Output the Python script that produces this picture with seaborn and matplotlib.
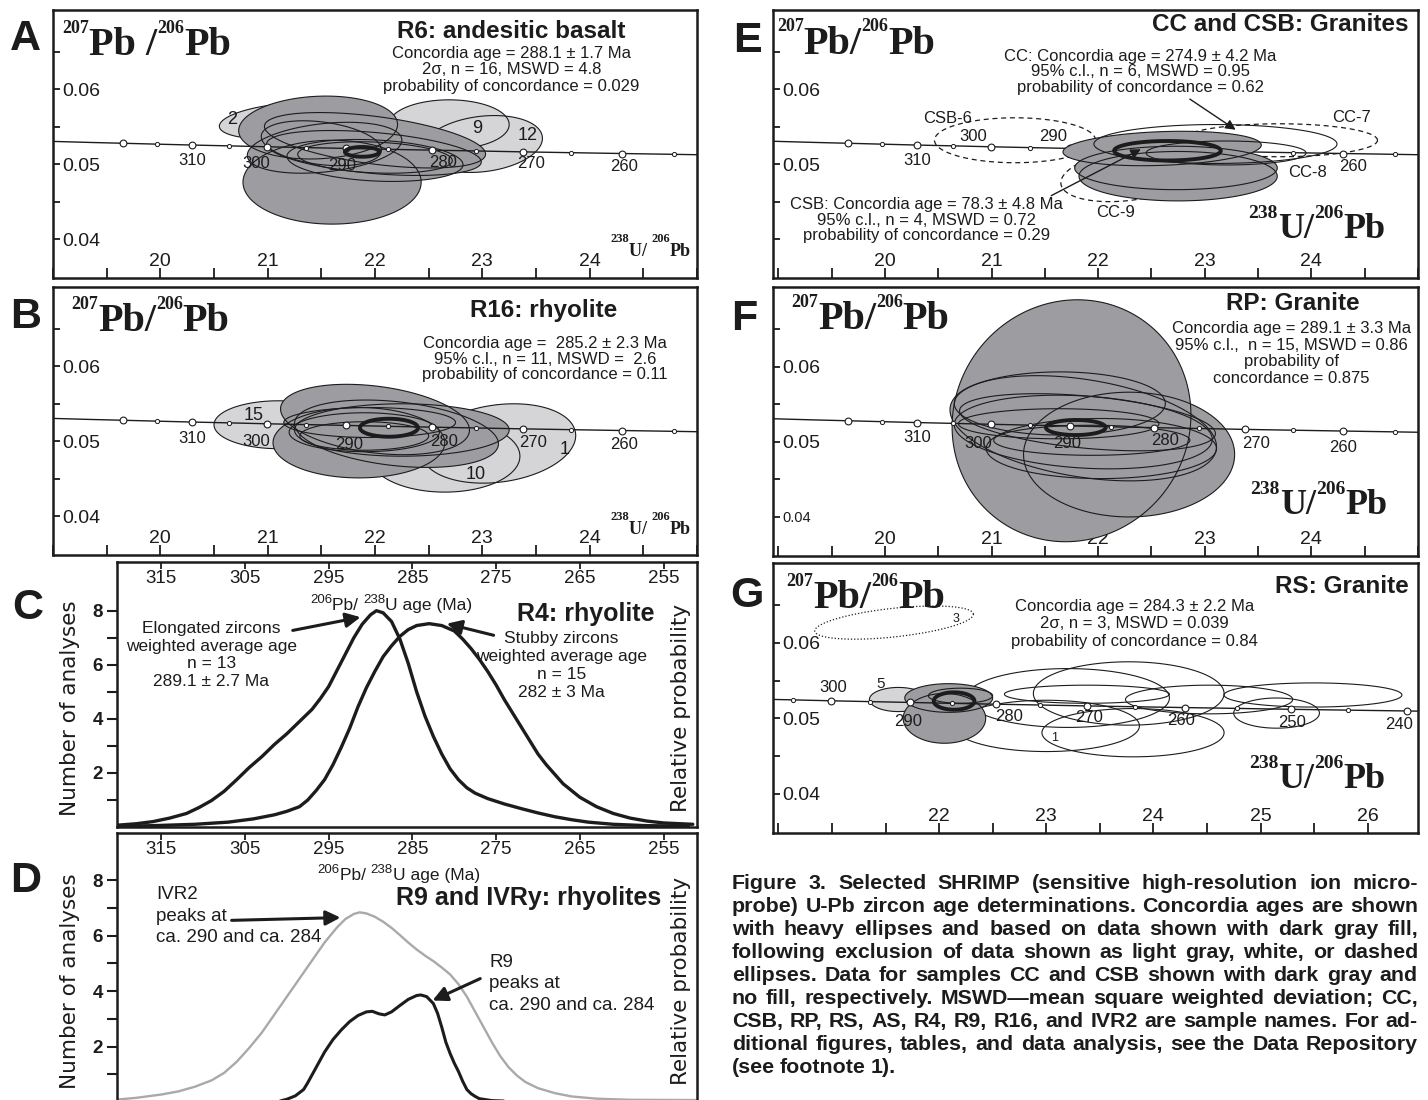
import numpy as np
import matplotlib
matplotlib.use("Agg")
import matplotlib.pyplot as plt
from matplotlib.patches import Polygon
import seaborn as sns

sns.set_theme(style="ticks")
plt.rcParams["font.family"] = ["Liberation Sans", "DejaVu Sans"]
plt.rcParams["axes.linewidth"] = 1.8
plt.rcParams["axes.edgecolor"] = "#1c1c1c"
plt.rcParams["text.color"] = "#1c1c1c"
plt.rcParams["xtick.color"] = "#1c1c1c"
plt.rcParams["ytick.color"] = "#1c1c1c"

W, H = 1428, 1100
DARK = "#9d9da1"
LIGHT = "#d5d5d7"
INK = "#1c1c1c"

# Tera-Wasserburg concordia: age (Ma), 238U/206Pb, 207Pb/206Pb
conc_age = [335, 330, 325, 320, 315, 310, 305, 300, 295, 290, 285,
            280, 275, 270, 265, 260, 255, 250, 245, 240, 235]
conc_x = [18.747, 19.039, 19.339, 19.649, 19.969, 20.299, 20.640, 20.992,
          21.356, 21.733, 22.123, 22.527, 22.945, 23.379, 23.830, 24.297,
          24.783, 25.289, 25.815, 26.363, 26.935]
conc_y = [0.05315, 0.05303, 0.05291, 0.05280, 0.05268, 0.05256, 0.05245,
          0.05233, 0.05222, 0.05211, 0.05199, 0.05188, 0.05177, 0.05165,
          0.05154, 0.05143, 0.05132, 0.05120, 0.05109, 0.05098, 0.05087]

# error ellipses: (x centre, y centre, x half-width, y half-height, rho)
a_light = [(21.15, 0.0558, 0.60, 0.0024, 0.3),
           (22.69, 0.0553, 0.56, 0.0033, 0.0),
           (23.00, 0.0527, 0.56, 0.0038, 0.2)]
a_dark = [(21.47, 0.0549, 0.74, 0.0042, 0.1),
          (21.60, 0.0476, 0.83, 0.0056, 0.0),
          (22.00, 0.0532, 1.03, 0.0037, -0.5),
          (21.99, 0.0515, 1.00, 0.0030, -0.4),
          (22.00, 0.0505, 0.82, 0.0028, -0.2),
          (22.00, 0.0509, 0.72, 0.0021, -0.2),
          (21.53, 0.0522, 0.72, 0.0034, 0.3),
          (21.50, 0.0528, 0.56, 0.0030, -0.3)]
a_heavy = (21.88, 0.05165, 0.16, 0.00065, 0.0)
a_tags = [("2", 20.67, 0.0560), ("9", 22.95, 0.0548), ("12", 23.42, 0.0538)]

b_light = [(21.10, 0.0522, 0.60, 0.0032, 0.0),
           (22.65, 0.0480, 0.70, 0.0048, 0.0),
           (23.15, 0.0497, 0.72, 0.0053, 0.2)]
b_dark = [(22.00, 0.0529, 0.88, 0.0047, -0.3),
          (21.85, 0.0498, 0.80, 0.0047, 0.0),
          (22.20, 0.0510, 0.95, 0.0045, -0.3),
          (22.25, 0.0515, 1.00, 0.0035, 0.0),
          (21.90, 0.0512, 0.70, 0.0026, 0.0),
          (21.90, 0.0507, 0.60, 0.0019, 0.0),
          (21.95, 0.0525, 0.80, 0.0020, 0.0)]
b_heavy = (22.13, 0.0518, 0.27, 0.0012, 0.0)
b_tags = [("15", 20.87, 0.0534), ("10", 22.94, 0.0455), ("1", 23.77, 0.0489)]

e_dashed = [(21.22, 0.0532, 0.755, 0.0030, 0.0),
            (23.70, 0.0532, 0.92, 0.0022, 0.0),
            (22.30, 0.0486, 0.65, 0.0036, 0.3)]
e_dark = [(22.73, 0.0495, 0.95, 0.0029, 0.0),
          (22.75, 0.0484, 0.93, 0.0033, 0.0),
          (22.60, 0.0521, 0.93, 0.0023, 0.2)]
e_open = [(23.10, 0.0527, 1.14, 0.0026, 0.0),
          (23.20, 0.0515, 0.75, 0.0016, 0.0)]
e_heavy = (22.65, 0.0518, 0.50, 0.0013, 0.0)
e_tags = [("CSB-6", 20.59, 0.0561), ("CC-7", 24.38, 0.0562),
          ("CC-8", 23.96, 0.0489), ("CC-9", 22.16, 0.0436)]
e_arrows = [((22.86, 0.0587), (23.29, 0.0546)), ((21.56, 0.0458), (22.40, 0.0520))]

f_dark = [(21.75, 0.0528, 1.12, 0.0161, 0.05),
          (22.29, 0.0483, 0.99, 0.0083, 0.0),
          (21.64, 0.0551, 0.99, 0.0042, 0.0),
          (21.86, 0.0518, 1.25, 0.0070, -0.35),
          (21.86, 0.0513, 1.21, 0.0049, -0.2),
          (22.03, 0.0491, 1.08, 0.0040, 0.0),
          (21.63, 0.0524, 0.94, 0.0020, 0.0),
          (21.94, 0.0502, 0.92, 0.0020, 0.0),
          (21.90, 0.0526, 1.20, 0.0038, -0.4)]
f_heavy = (21.79, 0.0519, 0.28, 0.0010, 0.0)

g_dotted = [(21.58, 0.0627, 0.74, 0.0022, 0.5)]
g_light = [(21.62, 0.0525, 0.27, 0.0016, 0.0)]
g_dark = [(22.09, 0.0527, 0.41, 0.0019, 0.0),
          (22.05, 0.0500, 0.385, 0.0033, 0.0),
          (22.20, 0.0530, 0.30, 0.0010, 0.0)]
g_white = [(23.20, 0.0527, 0.95, 0.0039, 0.0),
           (23.00, 0.0490, 0.87, 0.0034, 0.0),
           (23.77, 0.0533, 0.89, 0.0042, 0.0),
           (23.81, 0.0481, 0.85, 0.0032, 0.0),
           (23.38, 0.0532, 0.77, 0.0012, 0.0),
           (24.52, 0.0525, 0.78, 0.0019, 0.0),
           (25.49, 0.0531, 0.83, 0.0016, 0.0),
           (25.15, 0.0507, 0.40, 0.0020, 0.0)]
g_heavy = (22.14, 0.0523, 0.19, 0.00115, 0.0)
g_tags = [("5", 21.45, 0.0546, 11), ("1", 23.08, 0.0474, 9), ("3", 22.16, 0.0632, 9)]

# probability curves (age Ma, number of analyses)
elong_age = [321, 318, 316, 314, 312, 310.5, 309, 307.5, 306, 304.5, 303, 301.5,
             300, 298.5, 297, 296, 295, 294, 293, 292, 291, 290, 289.3, 288.5,
             287.5, 286.5, 285.5, 284.5, 283.5, 282.5, 281.5, 280.5, 279.5,
             278.5, 277.5, 276, 274, 272, 270, 268, 266, 264, 261, 257, 252]
elong_n = [0.05, 0.12, 0.2, 0.33, 0.5, 0.72, 0.98, 1.32, 1.75, 2.2, 2.6, 3.05,
           3.45, 3.9, 4.35, 4.75, 5.2, 5.8, 6.4, 7.0, 7.5, 7.85, 8.0, 7.92,
           7.6, 6.95, 6.05, 5.0, 4.1, 3.35, 2.7, 2.15, 1.75, 1.45, 1.25, 1.05,
           0.85, 0.68, 0.52, 0.38, 0.27, 0.18, 0.1, 0.05, 0.03]
stubby_age = [321, 316, 311, 307, 304, 301.5, 300, 298.5, 297.5, 296.5, 295.5,
              294.5, 293.5, 292.5, 291.5, 290.5, 289.5, 288.5, 287.5, 286.5,
              285.5, 284.5, 283, 281.5, 280, 279, 278, 277, 276, 275, 274, 273,
              272, 271, 270, 269, 268, 267, 266, 265, 263, 261, 259, 257, 255, 251.5]
stubby_n = [0.02, 0.05, 0.1, 0.18, 0.3, 0.45, 0.58, 0.75, 1.0, 1.35, 1.75, 2.3,
            2.95, 3.65, 4.45, 5.15, 5.75, 6.3, 6.7, 7.05, 7.3, 7.45, 7.52, 7.45,
            7.25, 6.95, 6.6, 6.2, 5.75, 5.25, 4.7, 4.2, 3.7, 3.2, 2.7, 2.3, 1.95,
            1.6, 1.35, 1.1, 0.75, 0.5, 0.33, 0.22, 0.15, 0.1]
ivr2_age = [321, 318, 315, 313, 311, 309, 307.5, 306, 304.5, 303, 301.5, 300,
            298.5, 297, 295.5, 294, 293, 292, 291.3, 290.5, 289.5, 288.5, 287.5,
            286.5, 285.5, 284.5, 283.5, 282.5, 281.5, 280.5, 279.5, 278.5, 277.5,
            276.5, 275.5, 274.5, 273.5, 272.5, 271.5, 270, 268, 266, 263, 259, 251]
ivr2_n = [0.07, 0.15, 0.27, 0.38, 0.55, 0.78, 1.05, 1.45, 1.95, 2.5, 3.15, 3.8,
          4.45, 5.1, 5.75, 6.3, 6.6, 6.78, 6.84, 6.8, 6.68, 6.5, 6.28, 6.02,
          5.75, 5.5, 5.28, 5.08, 4.85, 4.6, 4.25, 3.8, 3.25, 2.7, 2.15, 1.65,
          1.25, 0.95, 0.72, 0.5, 0.32, 0.2, 0.12, 0.08, 0.07]
r9_age = [301, 300, 299, 298, 297.5, 296.5, 295.5, 294.5, 293.5, 292.5, 291.5,
          290.5, 289.8, 289, 288.3, 287.5, 286.5, 285.5, 284.5, 284, 283.3,
          282.5, 282, 281.5, 281, 280.5, 280, 279.5, 279, 278.5, 278, 277.5,
          277, 275.5, 273.5]
r9_n = [0.02, 0.1, 0.22, 0.45, 0.7, 1.25, 1.8, 2.25, 2.6, 2.9, 3.12, 3.25, 3.27,
        3.18, 3.14, 3.25, 3.48, 3.7, 3.84, 3.86, 3.8, 3.55, 3.2, 2.7, 2.15,
        1.75, 1.4, 1.1, 0.75, 0.45, 0.3, 0.2, 0.12, 0.05, 0.03]
age_ticks = [315, 305, 295, 285, 275, 265, 255]
c_arrows = [((299.3, 7.27), (291.2, 7.76)), ((275.3, 7.09), (280.9, 7.52))]
d_arrows = [((306.6, 6.55), (293.6, 6.65)), ((276.9, 4.45), (282.6, 3.66))]

caption_lines = [
    "Figure 3. Selected SHRIMP (sensitive high-resolution ion micro-",
    "probe) U-Pb zircon age determinations. Concordia ages are shown",
    "with heavy ellipses and based on data shown with dark gray fill,",
    "following exclusion of data shown as light gray, white, or dashed",
    "ellipses. Data for samples CC and CSB shown with dark gray and",
    "no fill, respectively. MSWD\u2014mean square weighted deviation; CC,",
    "CSB, RP, RS, AS, R4, R9, R16, and IVR2 are sample names. For ad-",
    "ditional figures, tables, and data analysis, see the Data Repository",
    "(see footnote 1).",
]

fig = plt.figure(figsize=(W / 100, H / 100), dpi=100)
R = fig.canvas.get_renderer()


def px_box(l, t, r, b):
    return [l / W, 1 - b / H, (r - l) / W, (b - t) / H]


def ell_xy(cx, cy, sx, sy, rho):
    t = np.linspace(0, 2 * np.pi, 180)
    return np.column_stack([cx + sx * np.cos(t),
                            cy + sy * (rho * np.cos(t) + np.sqrt(1 - rho ** 2) * np.sin(t))])


def iso_text(ax, x, y, parts, big, small, rise, family="Liberation Serif",
             weight="bold", coords="axes fraction"):
    off = 0.0
    for s, sup in parts:
        t = ax.annotate(s, xy=(x, y), xycoords=coords,
                        xytext=(off, rise * big if sup else 0), textcoords="offset points",
                        fontsize=small if sup else big, family=family, weight=weight,
                        ha="left", va="baseline", zorder=8)
        off += t.get_window_extent(R).width * 72 / fig.dpi


def text_lines(ax, x, y0, dy, lines, size=12, ha="center", **kw):
    for i, s in enumerate(lines):
        ax.text(x, y0 - i * dy, s, transform=ax.transAxes, ha=ha, va="baseline",
                fontsize=size, zorder=8, **kw)


def conc_panel(ax, xlim, xlabs, light=(), dark=(), opened=(), dashed=(), dotted=(),
               heavy=None, labels=None, line_z=4.0, open_z=3.6,
               ylabs=("0.04", "", "0.05", "", "0.06", "")):
    ax.set_xlim(*xlim)
    ax.set_ylim(0.0348, 0.0706)
    for e in dashed:
        ax.add_patch(Polygon(ell_xy(*e), closed=True, fc="none", ec=INK, lw=0.9,
                             ls=(0, (4, 3)), zorder=1.5))
    for e in dotted:
        ax.add_patch(Polygon(ell_xy(*e), closed=True, fc="none", ec=INK, lw=0.9,
                             ls=(0, (1, 1.6)), zorder=1.5))
    for e in opened:
        ax.add_patch(Polygon(ell_xy(*e), closed=True, fc="none", ec=INK, lw=0.8, zorder=open_z))
    for rows, face, z in ((light, LIGHT, 2.0), (dark, DARK, 3.0)):
        for e in rows:
            ax.add_patch(Polygon(ell_xy(*e), closed=True, fc=face, ec="none", zorder=z))
        for e in rows:
            ax.add_patch(Polygon(ell_xy(*e), closed=True, fc="none", ec=INK, lw=0.8, zorder=z + 0.5))
    sns.lineplot(x=conc_x, y=conc_y, sort=False, color=INK, lw=1.0, ax=ax, zorder=line_z)
    ages = np.array(conc_age)
    cxs, cys = np.array(conc_x), np.array(conc_y)
    inside = (ages <= 320) & (ages >= 240)
    big = inside & (ages % 10 == 0)
    small = inside & (ages % 10 == 5)
    sns.scatterplot(x=cxs[big], y=cys[big], s=24, color="white", edgecolor=INK,
                    linewidth=0.8, ax=ax, zorder=line_z + 0.2)
    sns.scatterplot(x=cxs[small], y=cys[small], s=9, color="white", edgecolor=INK,
                    linewidth=0.7, ax=ax, zorder=line_z + 0.2)
    for age, (dx, dy) in (labels or {}).items():
        i = conc_age.index(age)
        ax.annotate(str(age), xy=(conc_x[i], conc_y[i]), xytext=(dx, dy),
                    textcoords="offset points", ha="center", va="center",
                    fontsize=12, zorder=7)
    if heavy is not None:
        ax.add_patch(Polygon(ell_xy(*heavy), closed=True, fc="none", ec=INK, lw=2.8, zorder=6))
    xt = np.arange(np.ceil(xlim[0] * 2) / 2, xlim[1] + 1e-9, 0.5)
    ax.set_xticks(xt, [f"{v:.0f}" if (v % 1 == 0 and int(v) in xlabs) else "" for v in xt])
    ax.tick_params(axis="x", direction="in", length=7, width=1.3, pad=-5.8, labelsize=14)
    for t in ax.get_xticklabels():
        t.set_va("bottom")
    ax.set_yticks([0.04, 0.045, 0.05, 0.055, 0.06, 0.065], list(ylabs))
    ax.tick_params(axis="y", direction="in", length=5, width=1.3, pad=-6.5, labelsize=14)
    for t in ax.get_yticklabels():
        t.set_ha("left")
    ax.set_xlabel("")
    ax.set_ylabel("")


def prob_panel(ax, ytop):
    ax.set_xlim(320.3, 251.0)
    ax.set_ylim(0, ytop)
    ax.xaxis.tick_top()
    ax.set_xticks(age_ticks, [str(a) for a in age_ticks])
    ax.tick_params(axis="x", top=True, bottom=False, labeltop=True, labelbottom=False,
                   direction="in", length=5, width=1.3, pad=-5.5, labelsize=13.5)
    for t in ax.xaxis.get_majorticklabels():
        t.set_va("top")
    ax.set_yticks([2, 4, 6, 8])
    ax.set_yticks([1, 3, 5, 7], minor=True)
    ax.tick_params(axis="y", which="both", left=True, right=False, direction="out",
                   length=7, width=1.5, pad=3, labelsize=13.5)
    for t in ax.get_yticklabels():
        t.set_fontweight("bold")
    ax.set_xlabel("")
    ax.set_ylabel("")
    ax.text(-0.081, 0.45, "Number of analyses", transform=ax.transAxes, rotation=90,
            ha="center", va="center", family="DejaVu Sans", fontsize=15.5)
    ax.text(0.973, 0.45, "Relative probability", transform=ax.transAxes, rotation=90,
            ha="center", va="center", family="DejaVu Sans", fontsize=15.5)


PB_Y = [("207", 1), ("Pb/", 0), ("206", 1), ("Pb", 0)]
U_X = [("238", 1), ("U/", 0), ("206", 1), ("Pb", 0)]
U_X_SMALL = [("238", 1), ("U/ ", 0), ("206", 1), ("Pb", 0)]

# ---------------- A ----------------
axA = fig.add_axes(px_box(53, 10, 697, 278))
conc_panel(axA, (19.0, 25.0), [20, 21, 22, 23, 24], light=a_light, dark=a_dark,
           heavy=a_heavy,
           labels={310: (0, -11), 300: (-8, -12), 290: (-3, -12), 280: (8, -9),
                   270: (6, -8.5), 260: (2, -9.5)})
for s, x, y in a_tags:
    axA.text(x, y, s, ha="center", va="center", fontsize=13, zorder=7)
iso_text(axA, 0.014, 0.832, [("207", 1), ("Pb /", 0), ("206", 1), ("Pb", 0)], 29, 13, 0.55)
iso_text(axA, 0.865, 0.081, U_X_SMALL, 13, 9, 0.77)
axA.text(0.712, 0.894, "R6: andesitic basalt", transform=axA.transAxes, ha="center",
         va="baseline", fontsize=17.5, weight="bold")
text_lines(axA, 0.712, 0.822, 0.062, ["Concordia age = 288.1 \u00b1 1.7 Ma",
                                      "2\u03c3, n = 16, MSWD = 4.8",
                                      "probability of concordance = 0.029"])

# ---------------- B ----------------
axB = fig.add_axes(px_box(53, 287, 697, 555))
conc_panel(axB, (19.0, 25.0), [20, 21, 22, 23, 24], light=b_light, dark=b_dark,
           heavy=b_heavy,
           labels={310: (0, -12), 300: (-8, -12.5), 290: (2, -13.5), 280: (8.7, -10),
                   270: (7.4, -10), 260: (1.6, -10)})
for s, x, y in b_tags:
    axB.text(x, y, s, ha="center", va="center", fontsize=13, zorder=7)
iso_text(axB, 0.028, 0.834, PB_Y, 29, 13, 0.55)
iso_text(axB, 0.865, 0.077, U_X_SMALL, 13, 9, 0.77)
axB.text(0.7625, 0.889, "R16: rhyolite", transform=axB.transAxes, ha="center",
         va="baseline", fontsize=17.5, weight="bold")
text_lines(axB, 0.764, 0.772, 0.058, ["Concordia age =  285.2 \u00b1 2.3 Ma",
                                      "95% c.l., n = 11, MSWD =  2.6",
                                      "probability of concordance = 0.11"])

# ---------------- C ----------------
axC = fig.add_axes(px_box(117, 562, 697, 827))
prob_panel(axC, 9.8)
sns.lineplot(x=elong_age, y=elong_n, sort=False, color=INK, lw=2.4, ax=axC)
sns.lineplot(x=stubby_age, y=stubby_n, sort=False, color=INK, lw=2.4, ax=axC)
for (x0, y0), (x1, y1) in c_arrows:
    axC.annotate("", xy=(x1, y1), xytext=(x0, y0),
                 arrowprops=dict(arrowstyle="-|>", color=INK, lw=2.2, mutation_scale=22,
                                 shrinkA=0, shrinkB=0))
axC.text(309.05, 6.36, "Elongated zircons\nweighted average age\nn = 13\n289.1 \u00b1 2.7 Ma",
         ha="center", va="center", fontsize=12.5, linespacing=1.24)
axC.text(267.2, 5.98, "Stubby zircons\nweighted average age\nn = 15\n282 \u00b1 3 Ma",
         ha="center", va="center", fontsize=12.5, linespacing=1.24)
axC.text(256.1, 7.88, "R4: rhyolite", ha="right", va="center", fontsize=18, weight="bold")
iso_text(axC, 297.2, 8.02, [("206", 1), ("Pb/ ", 0), ("238", 1), ("U age (Ma)", 0)],
         12.5, 9.5, 0.4, family="Liberation Sans", weight="normal", coords="data")
axC.set_xlabel("")
axC.set_ylabel("")

# ---------------- D ----------------
axD = fig.add_axes(px_box(117, 833, 697, 1102))
prob_panel(axD, 9.7)
sns.lineplot(x=ivr2_age, y=ivr2_n, sort=False, color="#a9a9a9", lw=1.7, ax=axD)
sns.lineplot(x=r9_age, y=r9_n, sort=False, color=INK, lw=2.2, ax=axD)
for (x0, y0), (x1, y1) in d_arrows:
    axD.annotate("", xy=(x1, y1), xytext=(x0, y0),
                 arrowprops=dict(arrowstyle="-|>", color=INK, lw=2.2, mutation_scale=22,
                                 shrinkA=0, shrinkB=0))
axD.text(315.6, 6.7, "IVR2\npeaks at\nca. 290 and ca. 284", ha="left", va="center",
         fontsize=13.5, linespacing=1.35)
axD.text(275.8, 4.27, "R9\npeaks at\nca. 290 and ca. 284", ha="left", va="center",
         fontsize=13.5, linespacing=1.35)
axD.text(255.3, 7.34, "R9 and IVRy: rhyolites", ha="right", va="center", fontsize=18,
         weight="bold")
iso_text(axD, 296.35, 8.02, [("206", 1), ("Pb/ ", 0), ("238", 1), ("U age (Ma)", 0)],
         12.5, 9.5, 0.4, family="Liberation Sans", weight="normal", coords="data")
axD.set_xlabel("")
axD.set_ylabel("")

# ---------------- E ----------------
axE = fig.add_axes(px_box(773, 10, 1418, 278))
conc_panel(axE, (18.95, 25.0), [20, 21, 22, 23, 24], dark=e_dark, opened=e_open,
           dashed=e_dashed, heavy=e_heavy, line_z=2.2,
           labels={310: (0, -11), 300: (-12.9, 7.2), 290: (-12.2, 8.9), 260: (7, -9.6)},
           ylabs=("", "", "0.05", "", "0.06", ""))
for s, x, y in e_tags:
    axE.text(x, y, s, ha="center", va="center", fontsize=12, zorder=7)
for (x0, y0), (x1, y1) in e_arrows:
    axE.annotate("", xy=(x1, y1), xytext=(x0, y0),
                 arrowprops=dict(arrowstyle="-|>", color=INK, lw=1.0, mutation_scale=15,
                                 shrinkA=0, shrinkB=0), zorder=7)
iso_text(axE, 0.006, 0.8375, PB_Y, 29, 13, 0.55)
iso_text(axE, 0.737, 0.15, U_X, 26, 14, 0.55)
axE.text(0.986, 0.9225, "CC and CSB: Granites", transform=axE.transAxes, ha="right",
         va="baseline", fontsize=17.5, weight="bold")
text_lines(axE, 0.569, 0.809, 0.057, ["CC: Concordia age = 274.9 \u00b1 4.2 Ma",
                                      "95% c.l., n = 6, MSWD = 0.95",
                                      "probability of concordance = 0.62"])
text_lines(axE, 0.238, 0.256, 0.0575, ["CSB: Concordia age = 78.3 \u00b1 4.8 Ma",
                                       "95% c.l., n = 4, MSWD = 0.72",
                                       "probability of concordance = 0.29"])

# ---------------- F ----------------
axF = fig.add_axes(px_box(773, 287, 1418, 556))
conc_panel(axF, (18.95, 25.0), [20, 21, 22, 23, 24], dark=f_dark, heavy=f_heavy,
           labels={310: (0, -10.8), 300: (-8.7, -13.9), 290: (-1.6, -12.7),
                   280: (8, -9.1), 270: (8, -10), 260: (0, -11.5)})
axF.get_yticklabels()[0].set_fontsize(10.5)
iso_text(axF, 0.028, 0.845, PB_Y, 29, 13, 0.55)
iso_text(axF, 0.74, 0.155, U_X, 26, 14, 0.55)
axF.text(0.806, 0.913, "RP: Granite", transform=axF.transAxes, ha="center",
         va="baseline", fontsize=17.5, weight="bold")
text_lines(axF, 0.804, 0.829, 0.062, ["Concordia age = 289.1 \u00b1 3.3 Ma",
                                      "95% c.l.,  n = 15, MSWD = 0.86",
                                      "probability of",
                                      "concordance = 0.875"])

# ---------------- G ----------------
axG = fig.add_axes(px_box(773, 563, 1418, 833))
conc_panel(axG, (20.45, 26.47), [22, 23, 24, 25, 26], light=g_light, dark=g_dark,
           opened=g_white, dotted=g_dotted, heavy=g_heavy, open_z=1.8,
           labels={300: (1.6, 9.6), 290: (-1.6, -13.7), 280: (9.6, -9.1),
                   270: (1.6, -8.4), 260: (-3.2, -9.6), 250: (0.6, -9.6),
                   240: (-5.5, -10)})
for s, x, y, fs in g_tags:
    axG.text(x, y, s, ha="center", va="center", fontsize=fs, zorder=7)
iso_text(axG, 0.021, 0.833, PB_Y, 29, 13, 0.55)
iso_text(axG, 0.738, 0.167, U_X, 26, 14, 0.55)
axG.text(0.986, 0.889, "RS: Granite", transform=axG.transAxes, ha="right",
         va="baseline", fontsize=17.5, weight="bold")
text_lines(axG, 0.560, 0.821, 0.0635, ["Concordia age = 284.3 \u00b1 2.2 Ma",
                                       "2\u03c3, n = 3, MSWD = 0.039",
                                       "probability of concordance = 0.84"])

# panel letters
for s, x, y in [("A", 10, 50), ("B", 10, 328), ("C", 12, 619), ("D", 10, 892),
                ("E", 733, 52), ("F", 731, 330), ("G", 730, 607)]:
    fig.text(x / W, 1 - y / H, s, fontsize=31, weight="bold", va="baseline", ha="left")

# justified caption: size chosen so the widest line fits the column
cap_x0, cap_x1, cap_base, cap_step = 732, 1418, 889, 23.0
probe = [fig.text(0, 0, ln, fontsize=12, weight="bold") for ln in caption_lines[:-1]]
widest = max(p.get_window_extent(R).width for p in probe)
for p in probe:
    p.remove()
cap_size = 12 * (cap_x1 - cap_x0) / widest * 0.985
for i, line in enumerate(caption_lines):
    words = line.split(" ")
    yy = 1 - (cap_base + i * cap_step) / H
    ts = [fig.text(0, yy, w, fontsize=cap_size, weight="bold", va="baseline", ha="left")
          for w in words]
    ws = [t.get_window_extent(R).width for t in ts]
    last = i == len(caption_lines) - 1
    gap = cap_size * 0.3 if (last or len(words) == 1) else \
        (cap_x1 - cap_x0 - sum(ws)) / (len(words) - 1)
    x = cap_x0
    for t, w in zip(ts, ws):
        t.set_x(x / W)
        x += w + gap

fig.savefig("out.png", dpi=100)
